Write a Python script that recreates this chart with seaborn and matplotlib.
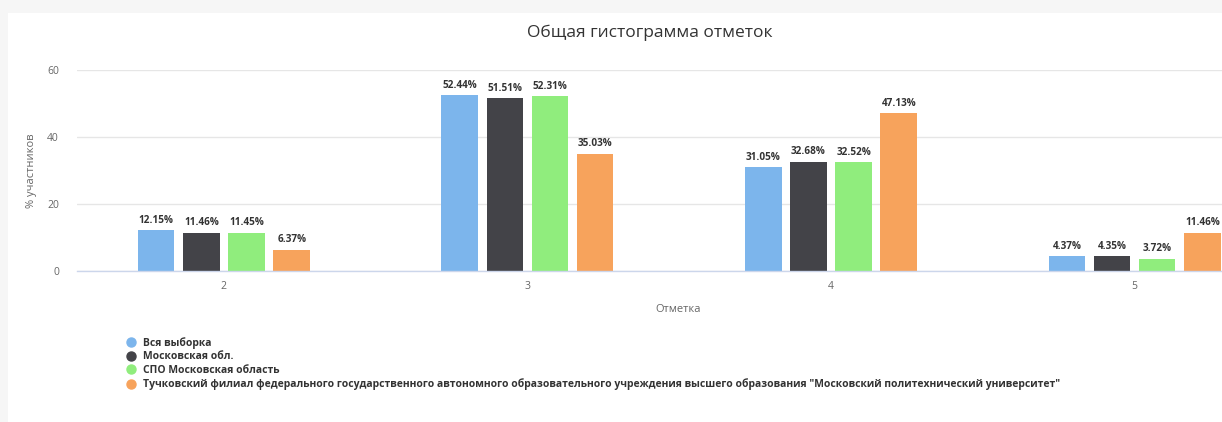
import matplotlib
matplotlib.use("Agg")
import matplotlib.pyplot as plt
from matplotlib.lines import Line2D
from matplotlib.patches import Rectangle
import pandas as pd
import seaborn as sns

# Grades and share of participants (%) per group
grades = ["2", "3", "4", "5"]
series_names = [
    "Вся выборка",
    "Московская обл.",
    "СПО Московская область",
    "Тучковский филиал федерального государственного автономного образовательного "
    "учреждения высшего образования \"Московский политехнический университет\"",
]
all_sample = [12.15, 52.44, 31.05, 4.37]
moscow_region = [11.46, 51.51, 32.68, 4.35]
spo_moscow = [11.45, 52.31, 32.52, 3.72]
tuchkovo_branch = [6.37, 35.03, 47.13, 11.46]
colors = ["#7cb5ec", "#434348", "#90ed7d", "#f7a35c"]
y_ticks = [0, 20, 40, 60]

rows = []
for name, vals in zip(series_names, [all_sample, moscow_region, spo_moscow, tuchkovo_branch]):
    for g, v in zip(grades, vals):
        rows.append({"Отметка": g, "Серия": name, "Значение": v})
df = pd.DataFrame(rows)

sns.set_theme(style="white")
plt.rcParams["font.family"] = ["Open Sans", "DejaVu Sans"]

W, H = 1222, 422
fig = plt.figure(figsize=(W / 100, H / 100), dpi=100, facecolor="white")

# light grey frame around the chart container
fig.patches.append(Rectangle((0, 1 - 13 / H), 1, 13 / H, transform=fig.transFigure,
                             facecolor="#f6f6f6", edgecolor="none", zorder=0))
fig.patches.append(Rectangle((0, 0), 8 / W, 1, transform=fig.transFigure,
                             facecolor="#f6f6f6", edgecolor="none", zorder=0))

left_px, right_px, top_px, bottom_px = 77, 1222, 70, 271
ax = fig.add_axes([left_px / W, 1 - bottom_px / H, (right_px - left_px) / W,
                   (bottom_px - top_px) / H])
ax.set_facecolor("none")

sns.barplot(data=df, x="Отметка", y="Значение", hue="Серия", hue_order=series_names,
            order=grades, palette=colors, width=0.595, gap=0.19, saturation=1,
            linewidth=0, ax=ax, legend=False)

for cont in ax.containers:
    ax.bar_label(cont, fmt="%.2f%%", padding=3, fontsize=7.2, fontweight="bold",
                 color="#333333")

ax.set_ylim(0, 60)
ax.set_yticks(y_ticks)
ax.set_xlim(-0.484, 3.288)
ax.grid(axis="y", color="#e6e6e6", linewidth=1)
ax.set_axisbelow(True)
for s in ["top", "right", "left"]:
    ax.spines[s].set_visible(False)
ax.spines["bottom"].set_color("#ccd6eb")
ax.spines["bottom"].set_linewidth(1)
ax.tick_params(axis="both", length=0, labelsize=7.5, labelcolor="#666666")
ax.tick_params(axis="y", pad=13)
ax.tick_params(axis="x", pad=7)
ax.set_xlabel("")
ax.set_ylabel("% участников", fontsize=8, color="#666666", labelpad=7)

fig.text(650 / W, 1 - 33 / H, "Общая гистограмма отметок", ha="center", va="center",
         fontsize=12.5, color="#333333")
fig.text(678 / W, 1 - 310 / H, "Отметка", ha="center", va="center",
         fontsize=8, color="#666666")

handles = [Line2D([0], [0], marker="o", linestyle="none", markersize=6.5,
                  markerfacecolor=c, markeredgecolor=c) for c in colors]
fig.legend(handles, series_names, loc="upper left",
           bbox_to_anchor=(126 / W, 1 - 337 / H), frameon=False,
           labelcolor="#333333", handletextpad=0.6, labelspacing=0.25,
           handlelength=1.0, borderaxespad=0, borderpad=0,
           prop={"weight": "bold", "size": 7.5})

fig.savefig("out.png", dpi=100, facecolor=fig.get_facecolor())
